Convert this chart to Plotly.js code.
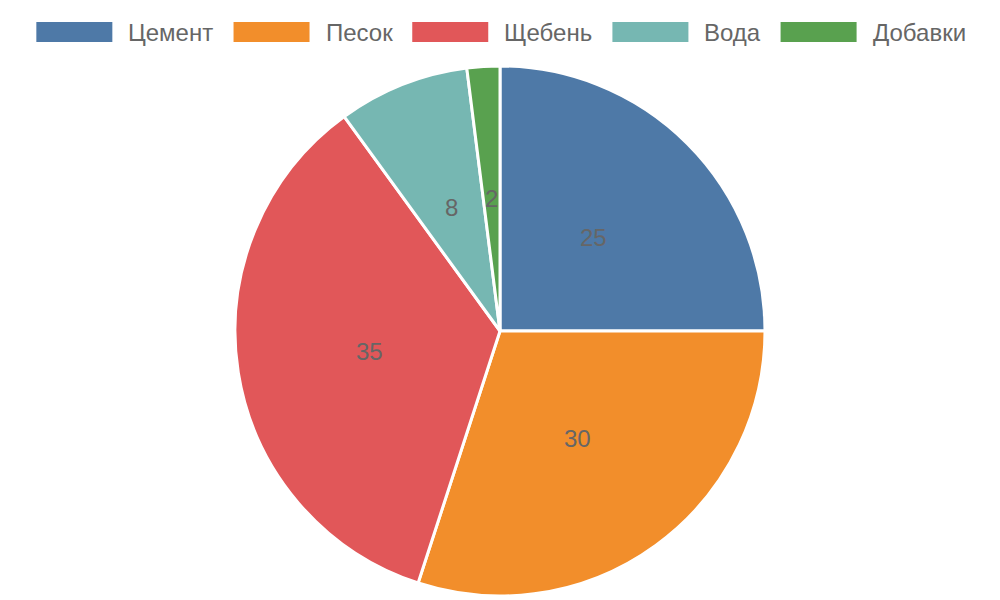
<!DOCTYPE html>
<html>
<head>
<meta charset="utf-8">
<script src="https://cdn.plot.ly/plotly-3.0.1.min.js"></script>
<style>html,body{margin:0;padding:0;background:#fff;}#chart{width:1000px;height:600px;}</style>
</head>
<body>
<div id="chart"></div>
<script>
const categories = ["Цемент", "Песок", "Щебень", "Вода", "Добавки"];
const values = [25, 30, 35, 8, 2];
const colors = ["#4e79a7", "#f28e2b", "#e15759", "#76b7b2", "#59a14f"];

const W = 1000, H = 600;
const M = {l: 0, r: 0, t: 66, b: 4};
const plotW = W - M.l - M.r, plotH = H - M.t - M.b;
const R = Math.min(plotW, plotH) / 2;
const px2x = p => (p - M.l) / plotW;
const px2y = p => (H - M.b - p) / plotH;

const FONT = "Liberation Sans, Arial, sans-serif";
const LEG_SIZE = 24, LABEL_SIZE = 24, TXT = "#666666";

// Slice labels at half radius, along mid-angle of each slice
const total = values.reduce((a, b) => a + b, 0);
const annotations = [];
let acc = 0;
values.forEach((v, i) => {
  const mid = (acc + v / 2) / total * 2 * Math.PI;
  acc += v;
  annotations.push({
    xref: "paper", yref: "paper",
    x: 0.5 + Math.sin(mid) * R * 0.5 / plotW,
    y: 0.5 + Math.cos(mid) * R * 0.5 / plotH,
    text: String(v), showarrow: false,
    font: {family: FONT, size: LABEL_SIZE, color: TXT},
    xanchor: "center", yanchor: "middle"
  });
});

// Custom legend with wide boxes
const ctx = document.createElement("canvas").getContext("2d");
ctx.font = LEG_SIZE + "px 'Liberation Sans', Arial, sans-serif";
const BOX_W = 76, BOX_H = 20, GAP_TXT = 14, GAP_ITEM = 22;
const widths = categories.map(c => BOX_W + GAP_TXT + ctx.measureText(c).width);
const totalW = widths.reduce((a, b) => a + b, 0) + GAP_ITEM * (categories.length - 1);
let x0 = (W - totalW) / 2;
const shapes = [];
const legY = 32;
categories.forEach((c, i) => {
  shapes.push({
    type: "rect", xref: "paper", yref: "paper",
    x0: px2x(x0), x1: px2x(x0 + BOX_W),
    y0: px2y(legY - BOX_H / 2), y1: px2y(legY + BOX_H / 2),
    fillcolor: colors[i], line: {width: 0}
  });
  annotations.push({
    xref: "paper", yref: "paper",
    x: px2x(x0 + BOX_W + GAP_TXT), y: px2y(legY),
    xanchor: "left", yanchor: "middle", showarrow: false,
    text: c, font: {family: FONT, size: LEG_SIZE, color: TXT}
  });
  x0 += widths[i] + GAP_ITEM;
});

const trace = {
  type: "pie",
  labels: categories,
  values: values,
  sort: false,
  direction: "clockwise",
  rotation: 0,
  textinfo: "none",
  marker: {colors: colors, line: {color: "#ffffff", width: 3}},
  domain: {x: [0, 1], y: [0, 1]},
  showlegend: false
};

Plotly.newPlot("chart", [trace], {
  width: W, height: H,
  margin: M,
  paper_bgcolor: "#ffffff",
  showlegend: false,
  font: {family: FONT},
  annotations: annotations,
  shapes: shapes
}, {displayModeBar: false, staticPlot: true});
</script>
</body>
</html>
